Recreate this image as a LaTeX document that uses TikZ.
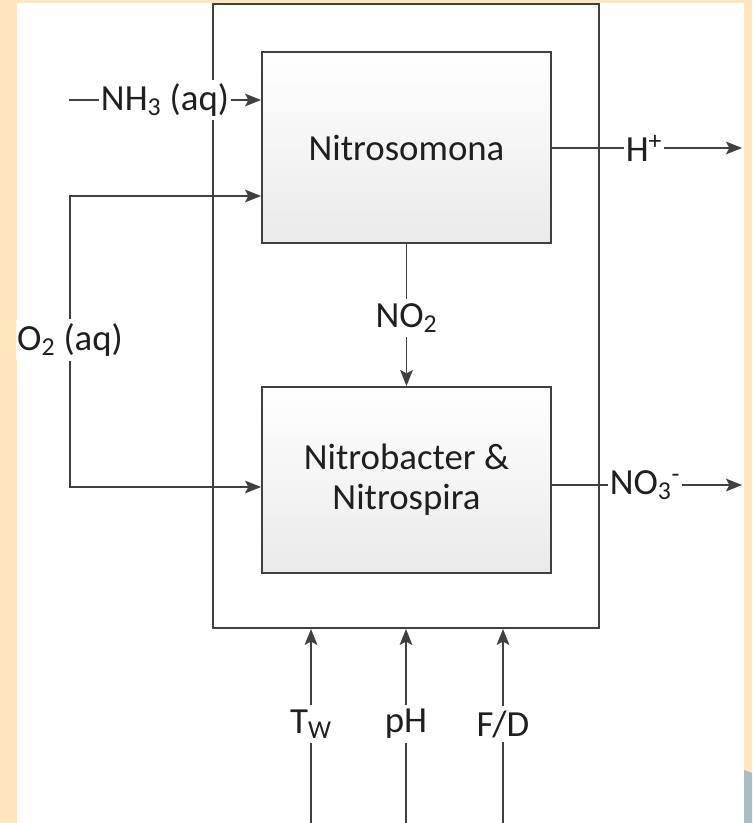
\documentclass[tikz,border=0pt]{standalone}
\usepackage{fontspec}
\setmainfont{Carlito}
\usepackage{tikz}
\usetikzlibrary{positioning,arrows.meta}
\definecolor{PageCream}{HTML}{FFE6BC}
\definecolor{PageBlue}{HTML}{A7BFC3}
\definecolor{DiagLine}{HTML}{404040}
\definecolor{DiagText}{HTML}{1F1F1F}
\definecolor{BoxShade}{HTML}{EAEAEA}

\begin{document}
\begin{tikzpicture}[x=0.75pt,y=-0.75pt,
  font=\fontsize{27.6}{30}\selectfont,text=DiagText,
  unit/.style={draw=DiagLine,line width=1.4pt,top color=white,bottom color=BoxShade,
    align=center,minimum width=216.75pt},
  lab/.style={fill=white,inner xsep=1pt,inner ysep=3pt},
  wire/.style={draw=DiagLine,line width=1.2pt},
  flow/.style={wire,-{Stealth[length=12pt,width=9.5pt,inset=2.5pt]}}]
  \useasboundingbox (0,0) rectangle (752,823);
  \fill[PageCream] (0,0) rectangle (752,823);
  \fill[white] (17,3) rectangle (744,823);
  \fill[PageBlue] (744,770) -- (752,773) -- (752,823) -- (744,823) -- cycle;

  \node[draw=DiagLine,line width=1.4pt,minimum width=289.5pt,minimum height=468pt]
    (reactor) at (406,316) {};
  \node[unit,minimum height=143.25pt] (nitroso) at (406.5,147.5) {Nitrosomona};
  \node[unit,minimum height=139.5pt] (nitrob) at (406.5,480)
    {Nitrobacter \&\\Nitrospira};

  \node[lab] (nh3) at (165,100) {NH\textsubscript{3} (aq)};
  \node[lab] (o2) at (70,340) {O\textsubscript{2} (aq)};
  \node[lab] (no2) at (406.5,318) {NO\textsubscript{2}};
  \node[lab] (hplus) at (644,148) {H\textsuperscript{+}};
  \node[lab] (no3) at (645,485) {NO\textsubscript{3}\textsuperscript{-}};
  \node[lab] (tw) at (311,724) {T\textsubscript{W}};
  \node[lab] (ph) at (406,724) {pH};
  \node[lab] (fd) at (503,724) {F/D};

  \coordinate (nh3in) at (69,100);
  \coordinate (o2up) at (70,196);
  \coordinate (o2down) at (70,487);
  \coordinate (hout) at (742,148);
  \coordinate (no3out) at (742,485);
  \coordinate (twin) at (311,823);
  \coordinate (phin) at (406,823);
  \coordinate (fdin) at (503,823);

  \draw[wire] (nh3in) -- (nh3);
  \draw[flow] (nh3) -- (nh3 -| nitroso.west);
  \draw[flow] (o2) -- (o2up) -- (o2up -| nitroso.west);
  \draw[flow] (o2) -- (o2down) -- (o2down -| nitrob.west);
  \draw[wire] (nitroso) -- (no2);
  \draw[flow] (no2) -- (nitrob);
  \draw[wire] (nitroso.east |- hplus) -- (hplus);
  \draw[flow] (hplus) -- (hout);
  \draw[wire] (nitrob.east |- no3) -- (no3);
  \draw[flow] (no3) -- (no3out);
  \draw[wire] (twin) -- (tw);
  \draw[flow] (tw) -- (tw |- reactor.south);
  \draw[wire] (phin) -- (ph);
  \draw[flow] (ph) -- (ph |- reactor.south);
  \draw[wire] (fdin) -- (fd);
  \draw[flow] (fd) -- (fd |- reactor.south);
\end{tikzpicture}
\end{document}
